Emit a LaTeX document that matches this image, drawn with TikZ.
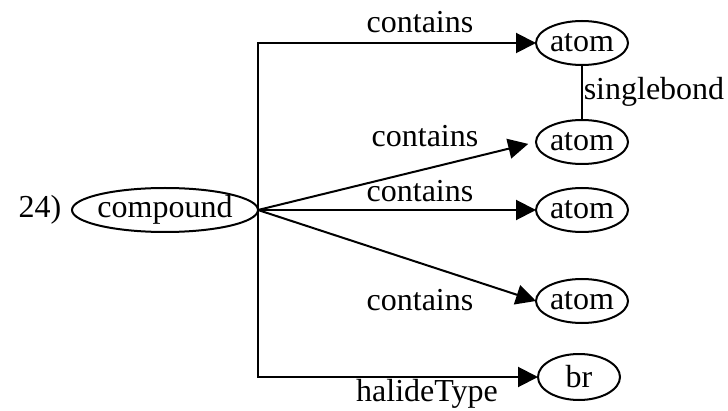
\documentclass[tikz,border=0pt]{standalone}
\usepackage{fontspec}
\setmainfont{Liberation Serif}
\usetikzlibrary{shapes.geometric,arrows.meta}
\begin{document}
\begin{tikzpicture}[x=0.5pt,y=-0.5pt,
  every node/.style={font=\fontsize{16}{18}\selectfont},
  ent/.style={draw,ellipse,line width=1pt,inner sep=0pt,outer sep=0pt,minimum height=22pt},
  edge/.style={line width=1pt,-{Triangle[length=10pt,width=10pt]}},
  lbl/.style={inner sep=0pt}]
\useasboundingbox (0,0) rectangle (728,411);
\node[lbl] (num) at (40,210) {24)};
\node[ent,minimum width=93pt,inner xsep=-1pt] (c) at (165,210) {compound};
\node[ent,minimum width=46pt] (a1) at (582,43) {atom};
\node[ent,minimum width=46pt] (a2) at (582,142) {atom};
\node[ent,minimum width=46pt] (a3) at (582,210) {atom};
\node[ent,minimum width=46pt] (a4) at (582,301) {atom};
\node[ent,minimum width=41pt,minimum height=23pt] (br) at (579,377) {br};
\draw[edge] (c.east) |- (a1);
\draw[edge,shorten >=4pt] (c.east) -- (a2.west);
\draw[edge] (c.east) -- (a3);
\draw[edge] (c.east) -- (a4.west);
\draw[edge] (c.east) |- (br);
\draw[line width=1pt] (a1) -- (a2);
\node[lbl] (l1) at (420,22) {contains};
\node[lbl] (l2) at (425,136) {contains};
\node[lbl] (l3) at (420,191) {contains};
\node[lbl] (l4) at (420,300) {contains};
\node[lbl] (l5) at (427,394) {halideType};
\node[lbl] (l6) at (654,92) {singlebond};
\end{tikzpicture}
\end{document}
